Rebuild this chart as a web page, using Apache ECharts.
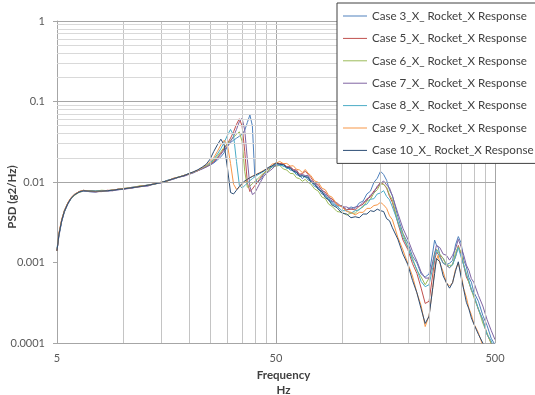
<!DOCTYPE html>
<html>
<head>
<meta charset="utf-8">
<script src="https://cdn.jsdelivr.net/npm/echarts@6/dist/echarts.min.js"></script>
<style>html,body{margin:0;padding:0;background:#fff}#c{width:535px;height:395px}</style>
</head>
<body>
<div id="c"></div>
<script>
// Frequency (Hz) sample points shared by all series
const freq = [5, 5.1, 5.25, 5.4, 5.6, 5.8, 6, 6.3, 6.6, 7, 7.5, 8, 8.5, 9, 9.5, 10,
  11, 12, 13, 14, 15, 16, 17, 18, 19, 20, 21, 22, 23,
  24, 25, 26, 27, 28, 29, 30, 31, 32, 33, 34, 35, 36, 37, 38, 39, 40, 41, 42, 43, 44,
  46, 48, 50, 52, 54, 56, 58, 60, 62, 64, 66, 68, 70, 72,
  75, 78, 81, 84, 87, 90,
  95, 100, 105, 110, 115, 120, 125, 130, 135, 140, 145, 150, 155, 160, 165, 170,
  180, 190, 200, 210, 220, 230, 240, 250, 260,
  265, 270, 275, 280,
  290, 300, 310, 320, 330, 340, 350, 360, 370, 380, 390, 400,
  420, 440, 460, 480, 500];

const seriesNames = ['Case 3_X_ Rocket_X Response', 'Case 5_X_ Rocket_X Response', 'Case 6_X_ Rocket_X Response',
  'Case 7_X_ Rocket_X Response', 'Case 8_X_ Rocket_X Response', 'Case 9_X_ Rocket_X Response', 'Case 10_X_ Rocket_X Response'];

const case3 = [0.0014, 0.0022, 0.0032, 0.0042, 0.0053, 0.0062, 0.0069, 0.0076, 0.0079, 0.0076, 0.0075, 0.0078, 0.0077, 0.0080, 0.0080, 0.0083,
  0.0084, 0.0089, 0.0090, 0.0096, 0.0098, 0.0105, 0.0109, 0.0116, 0.0119, 0.0127, 0.0131, 0.0140, 0.0146,
  0.0156, 0.0163, 0.0172, 0.0188, 0.0205, 0.0232, 0.0275, 0.031, 0.033, 0.035, 0.037, 0.039, 0.044, 0.055, 0.068, 0.050, 0.012, 0.0098, 0.0104, 0.0112, 0.0125,
  0.0136, 0.0158, 0.0161, 0.0170, 0.0156, 0.0155, 0.0141, 0.0139, 0.0123, 0.0121, 0.0110, 0.0119, 0.0106, 0.0103,
  0.0088, 0.0085, 0.0071, 0.0069, 0.0059, 0.0057,
  0.0050, 0.0051, 0.0045, 0.0049, 0.0047, 0.0055, 0.0058, 0.0071, 0.0077, 0.0099, 0.0111, 0.0136, 0.0124, 0.0105, 0.0079, 0.0068,
  0.0037, 0.0023, 0.00175, 0.0012, 0.00099, 0.00072, 0.00066, 0.00072, 0.00135,
  0.0019, 0.00165, 0.00155, 0.00125,
  0.00113, 0.00094, 0.00098, 0.00106, 0.00165, 0.0021, 0.00175, 0.00107, 0.00088, 0.00065, 0.00057, 0.00043,
  0.00033, 0.00022, 0.000165, 0.000115, 0.000095];

const case5 = [0.0014, 0.0023, 0.0034, 0.0044, 0.0055, 0.0064, 0.0070, 0.0076, 0.0078, 0.0078, 0.0076, 0.0076, 0.0079, 0.0078, 0.0082, 0.0081,
  0.0086, 0.0087, 0.0092, 0.0094, 0.0100, 0.0103, 0.0111, 0.0114, 0.0121, 0.0125, 0.0133, 0.0138, 0.0148,
  0.0154, 0.0166, 0.0180, 0.0200, 0.0228, 0.026, 0.030, 0.035, 0.042, 0.052, 0.061, 0.050, 0.024, 0.0098, 0.0076, 0.0082, 0.0090, 0.0098, 0.0108, 0.0118, 0.0128,
  0.0145, 0.0153, 0.0173, 0.0169, 0.0169, 0.0155, 0.0155, 0.0143, 0.0141, 0.0125, 0.0127, 0.0136, 0.0125, 0.0115,
  0.0097, 0.0093, 0.0078, 0.0075, 0.0064, 0.0062,
  0.0052, 0.0050, 0.0045, 0.0046, 0.0045, 0.0050, 0.0053, 0.0062, 0.0065, 0.0078, 0.0085, 0.0100, 0.0094, 0.0084, 0.0066, 0.0056,
  0.0031, 0.0019, 0.00145, 0.00097, 0.00073, 0.00048, 0.00031, 0.00033, 0.00072,
  0.00107, 0.00133, 0.00127, 0.00122,
  0.00098, 0.00092, 0.00086, 0.00095, 0.00118, 0.00163, 0.00127, 0.00092, 0.00066, 0.00057, 0.00045, 0.00039,
  0.00026, 0.000195, 0.000128, 0.000100, 0.00008];

const case6 = [0.0014, 0.0022, 0.0033, 0.0043, 0.0054, 0.0062, 0.0068, 0.0074, 0.0077, 0.0078, 0.0077, 0.0079, 0.0078, 0.0079, 0.0081, 0.0083,
  0.0085, 0.0090, 0.0091, 0.0094, 0.0100, 0.0103, 0.0110, 0.0116, 0.0120, 0.0126, 0.0133, 0.0139, 0.0148,
  0.0157, 0.0168, 0.0186, 0.0210, 0.0238, 0.027, 0.030, 0.033, 0.036, 0.039, 0.042, 0.032, 0.0135, 0.0086, 0.0089, 0.0095, 0.0102, 0.0108, 0.0115, 0.0122, 0.0130,
  0.0137, 0.0155, 0.0157, 0.0161, 0.0145, 0.0141, 0.0128, 0.0127, 0.0113, 0.0110, 0.0102, 0.0108, 0.0099, 0.0095,
  0.0082, 0.0077, 0.0065, 0.0062, 0.0053, 0.0050,
  0.0043, 0.0042, 0.0039, 0.0041, 0.0041, 0.0046, 0.0049, 0.0058, 0.0061, 0.0073, 0.0080, 0.0095, 0.0093, 0.0086, 0.0069, 0.0060,
  0.0032, 0.00225, 0.00155, 0.00113, 0.0008, 0.00066, 0.00053, 0.00064, 0.00098,
  0.00133, 0.00147, 0.00143, 0.00127,
  0.00112, 0.00093, 0.00092, 0.00093, 0.00133, 0.00157, 0.00133, 0.00093, 0.00074, 0.00056, 0.00047, 0.00037,
  0.000265, 0.000176, 0.000133, 0.000098, 0.00008];

const case7 = [0.0014, 0.0021, 0.0032, 0.0043, 0.0053, 0.0063, 0.0069, 0.0075, 0.0077, 0.0076, 0.0075, 0.0077, 0.0077, 0.0078, 0.0080, 0.0081,
  0.0084, 0.0088, 0.0089, 0.0095, 0.0097, 0.0104, 0.0108, 0.0115, 0.0118, 0.0124, 0.0130, 0.0138, 0.0145,
  0.0153, 0.0162, 0.0176, 0.0196, 0.0220, 0.025, 0.028, 0.032, 0.037, 0.045, 0.056, 0.062, 0.044, 0.019, 0.0088, 0.0070, 0.0073, 0.0083, 0.0094, 0.0106, 0.0118,
  0.0133, 0.0145, 0.0163, 0.0163, 0.0165, 0.0153, 0.0153, 0.0140, 0.0137, 0.0122, 0.0124, 0.0120, 0.0121, 0.0105,
  0.0099, 0.0086, 0.0081, 0.0070, 0.0067, 0.0058,
  0.0055, 0.0049, 0.0049, 0.0046, 0.0049, 0.0050, 0.0056, 0.0059, 0.0069, 0.0074, 0.0089, 0.0096, 0.0103, 0.0092, 0.0084, 0.0067,
  0.0041, 0.00265, 0.00195, 0.00137, 0.00104, 0.00076, 0.00064, 0.00064, 0.00103,
  0.00127, 0.00163, 0.00167, 0.00153,
  0.00127, 0.00123, 0.00107, 0.00123, 0.00147, 0.00194, 0.00157, 0.00123, 0.00093, 0.0008, 0.00063, 0.00057,
  0.00039, 0.000288, 0.000195, 0.000144, 0.00011];

const case8 = [0.0015, 0.0022, 0.0033, 0.0044, 0.0054, 0.0063, 0.0070, 0.0075, 0.0078, 0.0077, 0.0077, 0.0077, 0.0078, 0.0080, 0.0081, 0.0082,
  0.0086, 0.0088, 0.0092, 0.0095, 0.0099, 0.0105, 0.0110, 0.0115, 0.0121, 0.0127, 0.0132, 0.0140, 0.0149,
  0.0160, 0.0172, 0.0192, 0.0222, 0.026, 0.031, 0.038, 0.045, 0.038, 0.018, 0.0092, 0.0084, 0.0090, 0.0097, 0.0104, 0.0110, 0.0116, 0.0121, 0.0126, 0.0131, 0.0136,
  0.0146, 0.0153, 0.0167, 0.0160, 0.0160, 0.0147, 0.0147, 0.0134, 0.0131, 0.0117, 0.0119, 0.0115, 0.0115, 0.0100,
  0.0094, 0.0081, 0.0077, 0.0066, 0.0063, 0.0054,
  0.0050, 0.0044, 0.0044, 0.0041, 0.0044, 0.0045, 0.0051, 0.0053, 0.0061, 0.0062, 0.0071, 0.0073, 0.0078, 0.0066, 0.0060, 0.0049,
  0.0032, 0.00205, 0.00154, 0.00107, 0.00082, 0.00058, 0.0005, 0.00053, 0.00087,
  0.00117, 0.00143, 0.00127, 0.00123,
  0.00098, 0.00094, 0.00086, 0.00094, 0.00117, 0.00153, 0.00117, 0.00092, 0.0007, 0.0006, 0.00046, 0.0004,
  0.000265, 0.000194, 0.000127, 0.000107, 0.00008];

const case9 = [0.0014, 0.0023, 0.0034, 0.0044, 0.0055, 0.0064, 0.0070, 0.0076, 0.0079, 0.0077, 0.0076, 0.0077, 0.0078, 0.0080, 0.0081, 0.0083,
  0.0085, 0.0089, 0.0091, 0.0096, 0.0099, 0.0104, 0.0111, 0.0115, 0.0121, 0.0126, 0.0133, 0.0140, 0.0150,
  0.0162, 0.0178, 0.0202, 0.0240, 0.029, 0.033, 0.029, 0.017, 0.0094, 0.0081, 0.0086, 0.0094, 0.0101, 0.0107, 0.0113, 0.0118, 0.0122, 0.0126, 0.0130, 0.0135, 0.0140,
  0.0147, 0.0167, 0.0171, 0.0180, 0.0169, 0.0170, 0.0158, 0.0159, 0.0144, 0.0141, 0.0131, 0.0143, 0.0129, 0.0121,
  0.0103, 0.0099, 0.0084, 0.0080, 0.0068, 0.0065,
  0.0053, 0.0049, 0.0043, 0.0042, 0.0039, 0.0042, 0.0042, 0.0047, 0.0047, 0.0051, 0.0052, 0.0056, 0.0052, 0.0047, 0.0038, 0.0034,
  0.00205, 0.00143, 0.00097, 0.00068, 0.00042, 0.00029, 0.00016, 0.00022, 0.00049,
  0.00082, 0.00107, 0.00123, 0.00098,
  0.00077, 0.00056, 0.00051, 0.00056, 0.00082, 0.00098, 0.00072, 0.00047, 0.00037, 0.00027, 0.000225, 0.000175,
  0.000134, 0.000092, 0.00007, 0.00005, 0.00004];

const case10 = [0.0014, 0.0022, 0.0033, 0.0043, 0.0054, 0.0063, 0.0069, 0.0075, 0.0078, 0.0077, 0.0077, 0.0077, 0.0078, 0.0079, 0.0081, 0.0082,
  0.0085, 0.0088, 0.0091, 0.0095, 0.0099, 0.0104, 0.0110, 0.0115, 0.0120, 0.0127, 0.0134, 0.0142, 0.0153,
  0.0166, 0.0192, 0.0240, 0.0290, 0.034, 0.029, 0.015, 0.0074, 0.0071, 0.0079, 0.0088, 0.0096, 0.0103, 0.0108, 0.0113, 0.0117, 0.0121, 0.0125, 0.0129, 0.0133, 0.0138,
  0.0151, 0.0159, 0.0173, 0.0166, 0.0165, 0.0151, 0.0150, 0.0136, 0.0133, 0.0118, 0.0120, 0.0116, 0.0115, 0.0101,
  0.0095, 0.0081, 0.0076, 0.0064, 0.0060, 0.0052,
  0.0048, 0.0041, 0.0040, 0.0036, 0.0037, 0.0036, 0.0040, 0.0040, 0.0044, 0.0043, 0.0046, 0.0044, 0.0043, 0.0035, 0.0033, 0.0027,
  0.00195, 0.00127, 0.00094, 0.0006, 0.00042, 0.000265, 0.000175, 0.000215, 0.00049,
  0.00073, 0.00112, 0.00118, 0.00102,
  0.00068, 0.00056, 0.00048, 0.00056, 0.00078, 0.00102, 0.00066, 0.00046, 0.00032, 0.000265, 0.000205, 0.000173,
  0.000128, 0.0001, 0.00007, 0.00005, 0.00004];

const seriesValues = [case3, case5, case6, case7, case8, case9, case10];
const seriesColors = ['#4F81BD', '#C0504D', '#9BBB59', '#8064A2', '#4BACC6', '#F79646', '#2C4D75'];

// Axis tick labels
const xTickValues = [5, 50, 500];
const xTickLabels = ['5', '50', '500'];
const yTickValues = [0.0001, 0.001, 0.01, 0.1, 1];
const yTickLabels = ['0.0001', '0.001', '0.01', '0.1', '1'];

// Gridline values
const xMinorGrid = [10, 15, 20, 25, 30, 35, 40, 45, 100, 150, 200, 250, 300, 350, 400, 450];
const xMajorGrid = [50, 500];
const yMinorGrid = [0.0002, 0.0003, 0.0004, 0.0005, 0.0006, 0.0007, 0.0008, 0.0009,
  0.002, 0.003, 0.004, 0.005, 0.006, 0.007, 0.008, 0.009,
  0.02, 0.03, 0.04, 0.05, 0.06, 0.07, 0.08, 0.09,
  0.2, 0.3, 0.4, 0.5, 0.6, 0.7, 0.8, 0.9];
const yMajorGrid = [0.001, 0.01, 0.1, 1];

const FONT = 'Lato';

function labelFor(values, labels) {
  return function (v) {
    for (let i = 0; i < values.length; i++) {
      if (Math.abs(Math.log10(v) - Math.log10(values[i])) < 1e-6) return labels[i];
    }
    return '';
  };
}

const gridMarks = [];
xMinorGrid.forEach(v => gridMarks.push({ xAxis: v, lineStyle: { color: '#c4c4c4', width: 1, type: 'solid' } }));
xMajorGrid.forEach(v => gridMarks.push({ xAxis: v, lineStyle: { color: '#a6a6a6', width: 1, type: 'solid' } }));
yMinorGrid.forEach(v => gridMarks.push({ yAxis: v, lineStyle: { color: '#d9d9d9', width: 1, type: 'solid' } }));
yMajorGrid.forEach(v => gridMarks.push({ yAxis: v, lineStyle: { color: '#a6a6a6', width: 1, type: 'solid' } }));

const series = [{
  type: 'line',
  name: '__grid',
  data: [],
  silent: true,
  z: 1,
  markLine: {
    silent: true,
    symbol: 'none',
    animation: false,
    label: { show: false },
    emphasis: { disabled: true },
    data: gridMarks
  }
}];
seriesNames.forEach((name, k) => {
  series.push({
    type: 'line',
    name: name,
    data: freq.map((f, i) => [f, seriesValues[k][i]]),
    showSymbol: false,
    symbol: 'none',
    clip: true,
    z: 2,
    lineStyle: { width: 1, color: seriesColors[k] },
    itemStyle: { color: seriesColors[k] },
    emphasis: { disabled: true }
  });
});

const chart = echarts.init(document.getElementById('c'), null, { renderer: 'canvas' });
chart.setOption({
  animation: false,
  backgroundColor: '#fff',
  textStyle: { fontFamily: FONT },
  grid: { left: 57, top: 21, width: 438, height: 322, containLabel: false },
  legend: {
    data: seriesNames,
    orient: 'vertical',
    left: 337,
    top: 3,
    z: 100,
    zlevel: 0,
    padding: [6, 14, 6, 6],
    itemGap: 8.4,
    itemWidth: 24,
    itemHeight: 1,
    icon: 'rect',
    backgroundColor: '#fff',
    borderColor: '#404040',
    borderWidth: 1,
    borderRadius: 0,
    selectedMode: false,
    textStyle: { fontFamily: FONT, fontSize: 11.6, color: '#404040', lineHeight: 14 }
  },
  xAxis: {
    type: 'log',
    logBase: 10,
    min: 5,
    max: 500,
    axisLine: { show: true, onZero: false, lineStyle: { color: '#a6a6a6' } },
    axisTick: { show: false },
    splitLine: { show: false },
    axisLabel: {
      customValues: xTickValues,
      formatter: labelFor(xTickValues, xTickLabels),
      color: '#595959',
      fontFamily: FONT,
      fontSize: 11,
      margin: 10
    }
  },
  yAxis: {
    type: 'log',
    logBase: 10,
    min: 0.0001,
    max: 1,
    axisLine: { show: true, onZero: false, lineStyle: { color: '#a6a6a6' } },
    axisTick: { show: true, customValues: yTickValues, length: 4, lineStyle: { color: '#a6a6a6' } },
    splitLine: { show: false },
    axisLabel: {
      customValues: yTickValues,
      formatter: labelFor(yTickValues, yTickLabels),
      color: '#595959',
      fontFamily: FONT,
      fontSize: 11,
      margin: 12
    }
  },
  graphic: [
    { type: 'text', x: 283.5, y: 375, z: 100, style: { text: 'Frequency', fontFamily: FONT, fontSize: 11.5, fontWeight: 'bold', fill: '#404040', align: 'center', verticalAlign: 'middle' } },
    { type: 'text', x: 283.5, y: 390, z: 100, style: { text: 'Hz', fontFamily: FONT, fontSize: 11.5, fontWeight: 'bold', fill: '#404040', align: 'center', verticalAlign: 'middle' } },
    { type: 'text', x: 12, y: 197, z: 100, rotation: Math.PI / 2, style: { text: 'PSD (g2/Hz)', fontFamily: FONT, fontSize: 11.5, fontWeight: 'bold', fill: '#404040', align: 'center', verticalAlign: 'middle' } }
  ],
  series: series
});
</script>
</body>
</html>
